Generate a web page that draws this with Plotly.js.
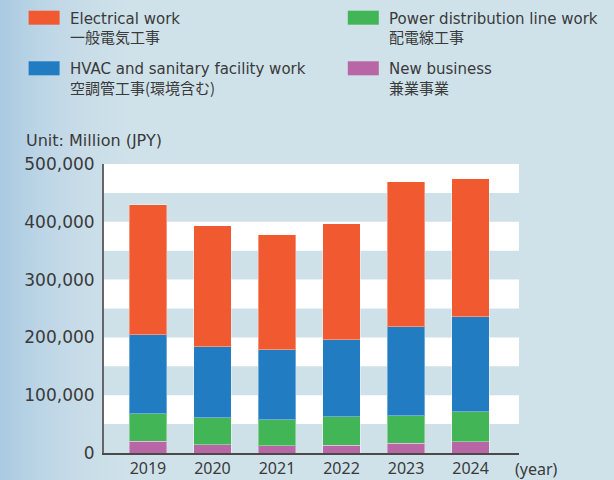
<!DOCTYPE html>
<html>
<head>
<meta charset="utf-8">
<script src="https://cdn.plot.ly/plotly-3.0.1.min.js"></script>
<style>
  html, body { margin: 0; padding: 0; }
  body {
    width: 614px; height: 480px; overflow: hidden;
    background: linear-gradient(to right, #A9CAE2 0px, #BCD5E6 40px, #C9DDE8 85px, #CFE2EA 130px, #CFE2EA 614px);
  }
  #chart { width: 614px; height: 480px; }
</style>
</head>
<body>
<div id="chart"></div>
<script>
// ---- data (Unit: Million JPY) ----
const years = ["2019", "2020", "2021", "2022", "2023", "2024"];
const newBusiness   = [20700, 14300, 12600, 13800, 16600, 19500];
const powerLine     = [47200, 46700, 44900, 48900, 47900, 51900];
const hvac          = [136600, 122700, 121000, 133600, 153800, 164200];
const electrical    = [225200, 209100, 198800, 200000, 250600, 238500];

const seriesNames = {
  electrical: ["Electrical work", "一般電気工事"],
  hvac: ["HVAC and sanitary facility work", "空調管工事(環境含む)"],
  power: ["Power distribution line work", "配電線工事"],
  newBiz: ["New business", "兼業事業"]
};
const colors = {
  electrical: "#F15A31",
  hvac: "#217CC2",
  power: "#42B657",
  newBiz: "#B966A6"
};
const yTicks = [0, 100000, 200000, 300000, 400000, 500000];
const bandStarts = [50000, 150000, 250000, 350000, 450000];

// ---- layout geometry ----
const W = 614, H = 480;
const M = { l: 104, r: 95, t: 164, b: 27 };
const PW = W - M.l - M.r, PH = H - M.t - M.b;
const px = x => (x - M.l) / PW;
const py = y => (H - M.b - y) / PH;

const textColor = "#3A3A3A";
const barLine = { color: "rgba(255,255,255,0.35)", width: 1 };

function bar(name, vals, color) {
  return {
    type: "bar", x: years, y: vals, name: name,
    marker: { color: color, line: barLine },
    width: 0.58, hoverinfo: "x+y+name"
  };
}

const traces = [
  bar(seriesNames.newBiz[0], newBusiness, colors.newBiz),
  bar(seriesNames.power[0], powerLine, colors.power),
  bar(seriesNames.hvac[0], hvac, colors.hvac),
  bar(seriesNames.electrical[0], electrical, colors.electrical)
];

const shapes = bandStarts.map(s => ({
  type: "rect", xref: "paper", yref: "y", x0: 0, x1: 1, y0: s, y1: s + 50000,
  fillcolor: "#FFFFFF", line: { width: 0 }, layer: "below"
}));

const annotations = [];
const legendItems = [
  { key: "electrical", x: 28.6, y: 10.7 },
  { key: "hvac", x: 28.6, y: 61.3 },
  { key: "power", x: 347.8, y: 10.7 },
  { key: "newBiz", x: 347.8, y: 61.3 }
];
legendItems.forEach(it => {
  shapes.push({
    type: "rect", xref: "paper", yref: "paper",
    x0: px(it.x), x1: px(it.x + 31), y0: py(it.y + 14), y1: py(it.y),
    fillcolor: colors[it.key], line: { width: 0 }
  });
  annotations.push({
    xref: "paper", yref: "paper", x: px(it.x + 39), y: py(it.y + 8),
    xanchor: "left", yanchor: "middle", showarrow: false,
    text: seriesNames[it.key][0],
    font: { family: "DejaVu Sans", size: 15, color: textColor }
  });
  annotations.push({
    xref: "paper", yref: "paper", x: px(it.x + 39), y: py(it.y + 26),
    xanchor: "left", yanchor: "middle", showarrow: false,
    text: seriesNames[it.key][1],
    font: { family: "Noto Sans CJK JP", size: 15, color: textColor }
  });
});

annotations.push({
  xref: "paper", yref: "paper", x: px(24), y: py(140),
  xanchor: "left", yanchor: "middle", showarrow: false,
  text: "Unit: Million (JPY)",
  font: { family: "DejaVu Sans", size: 16, color: textColor }
});
annotations.push({
  xref: "paper", yref: "paper", x: px(513), y: py(469),
  xanchor: "left", yanchor: "middle", showarrow: false,
  text: "(year)",
  font: { family: "Noto Sans", size: 16, color: textColor }
});

const layout = {
  width: W, height: H,
  margin: M,
  paper_bgcolor: "rgba(0,0,0,0)",
  plot_bgcolor: "#CEE1E9",
  barmode: "stack",
  showlegend: false,
  xaxis: {
    type: "category",
    range: [-0.681, 5.751],
    showline: true, linecolor: "#4A4A4A", linewidth: 2,
    showgrid: false, zeroline: false, ticks: "",
    tickfont: { family: "Noto Sans", size: 16, color: textColor },
    fixedrange: true
  },
  yaxis: {
    range: [0, 500000],
    tickvals: yTicks,
    tickformat: ",d",
    showline: true, linecolor: "#666666", linewidth: 2,
    showgrid: false, zeroline: false, ticks: "",
    ticklabelstandoff: 4,
    tickfont: { family: "DejaVu Sans", size: 17, color: textColor },
    fixedrange: true
  },
  shapes: shapes,
  annotations: annotations
};

Plotly.newPlot("chart", traces, layout, { displayModeBar: false, staticPlot: false });
</script>
</body>
</html>
